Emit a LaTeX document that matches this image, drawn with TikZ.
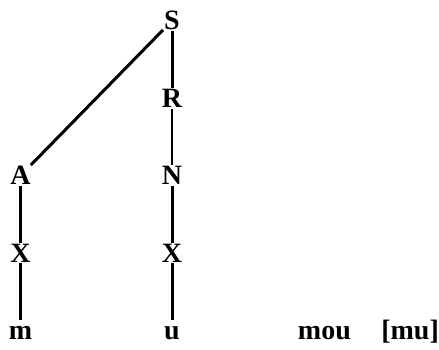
\documentclass[tikz,border=0pt]{standalone}
\usepackage{fontspec}
\setmainfont{Liberation Serif}
\usetikzlibrary{positioning}
\tikzset{
  seg/.style={font=\fontsize{28}{32}\selectfont\bfseries, inner sep=1pt, text height=18.5pt, text depth=0pt},
  br/.style={line width=3pt},
  brthin/.style={line width=1.2pt},
}

\begin{document}
\begin{tikzpicture}[node distance=56.5pt]
    \useasboundingbox (0pt,0pt) rectangle (439pt,-350pt);
    \node[seg] (s) at (172pt,-20.75pt) {S};
    \node[seg, below=of s] (r) {R};
    \node[seg, below=of r] (n) {N};
    \node[seg, below=of n] (xr) {X};
    \node[seg, below=of xr] (u) {u};
    \node[seg, left=128.8pt of n] (a) {A};
    \node[seg, below=of a] (xl) {X};
    \node[seg, below=of xl] (m) {m};
    \node[seg, right=115.8pt of u] (word) {mou};
    \node[seg, right=28pt of word] (ipa) {[mu]};
    \draw[br] (s) -- (a);
    \draw[br] (s) -- (r);
    \draw[brthin] (r) -- (n);
    \draw[br] (n) -- (xr);
    \draw[br] (xr) -- (u);
    \draw[br] (a) -- (xl);
    \draw[br] (xl) -- (m);
  \end{tikzpicture}
\end{document}
